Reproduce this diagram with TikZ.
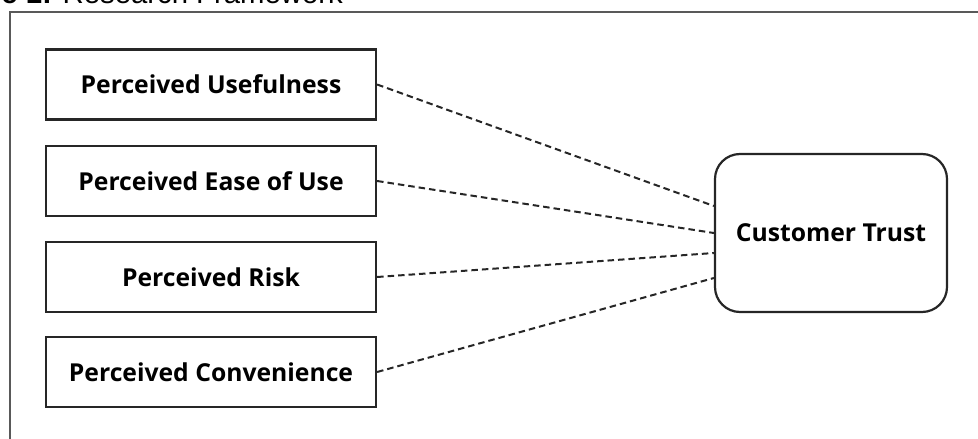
\documentclass[tikz,border=0pt]{standalone}
\usepackage{fontspec}
\setmainfont{Liberation Sans}
\newfontfamily\labelfont{Open Sans}
\begin{document}
\begin{tikzpicture}[x=1pt,y=-1pt,
  factor/.style={draw=black!85, line width=2.2pt, minimum width=330pt, minimum height=70pt, inner sep=0pt, font=\labelfont\bfseries\fontsize{24.7}{28}\selectfont},
  outcome/.style={factor, minimum width=232pt, minimum height=158pt, rounded corners=25pt},
  link/.style={draw=black!85, line width=2pt, dash pattern=on 6.5pt off 4pt}]
\useasboundingbox (0,0) rectangle (978,439);
\clip (0,0) rectangle (978,439);
\node[anchor=base east, inner sep=0pt, font=\fontsize{29.3}{33}\selectfont] (cap) at (343,3) {\textbf{Figure 1:} Research Framework};
\draw[black!65, line width=1.5pt] (10,439) -- (10,12) -- (978,12);
\node[factor] (pu) at (211,84.5) {Perceived Usefulness};
\node[factor] (peou) at (211,181) {Perceived Ease of Use};
\node[factor] (pr) at (211,277) {Perceived Risk};
\node[factor] (pc) at (211,372) {Perceived Convenience};
\node[outcome] (ct) at (831,233) {Customer Trust};
\draw[link] (pu.east) -- ([yshift=27pt]ct.west);
\draw[link] (peou.east) -- (ct.west);
\draw[link] (pr.east) -- ([yshift=-20pt]ct.west);
\draw[link] (pc.east) -- ([yshift=-45pt]ct.west);
\end{tikzpicture}
\end{document}
